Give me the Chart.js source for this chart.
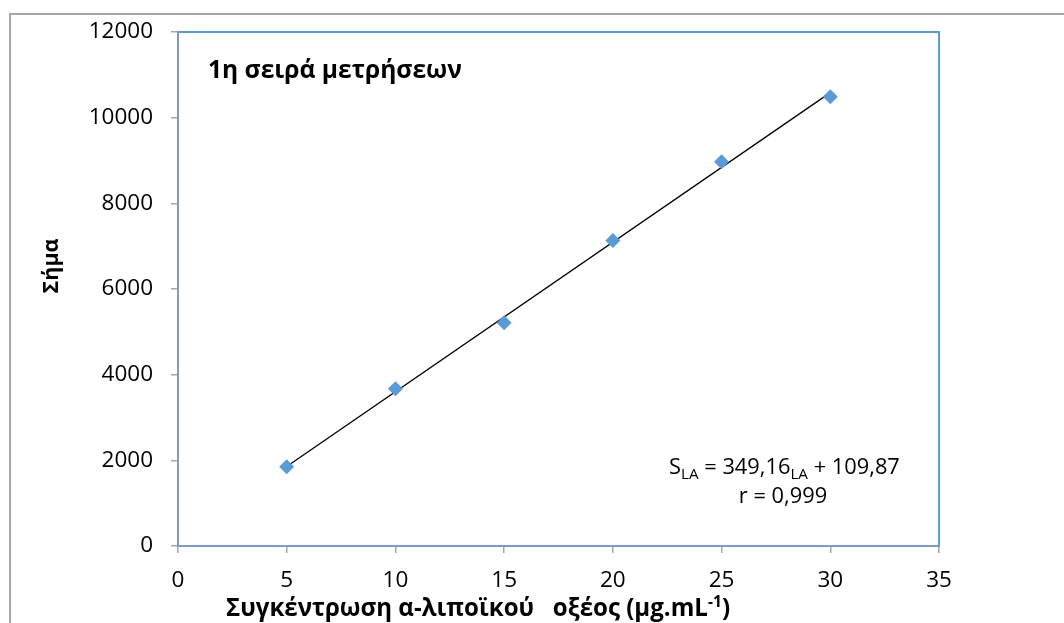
<!DOCTYPE html>
<html><head><meta charset="utf-8">
<script src="https://cdn.jsdelivr.net/npm/chart.js@4.4.1/dist/chart.umd.min.js"></script>
<style>html,body{margin:0;padding:0;background:#fff}#wrap{width:1064px;height:623px;position:relative}</style>
</head><body><div id="wrap"><canvas id="c" width="1064" height="623"></canvas></div>
<script>
const concentrations = [5, 10, 15, 20, 25, 30];
const signals = [1850, 3670, 5210, 7130, 8970, 10490];
const trendX = [5, 30];
const trendY = [1856, 10585];
const xTicks = [0, 5, 10, 15, 20, 25, 30, 35];
const yTicks = [0, 2000, 4000, 6000, 8000, 10000, 12000];
const chartTitle = '1η σειρά μετρήσεων';
const yTitle = 'Σήμα';
const xTitle = 'Συγκέντρωση α-λιποϊκού   οξέος (μg.mL';
const xTitleSup = '-1';
const FONT = '"Open Sans", "Noto Sans", sans-serif';

function fitSize(ctx, text, weight, target) {
  ctx.font = weight + ' 100px ' + FONT;
  return 100 * target / ctx.measureText(text).width;
}

const deco = {
  id: 'deco',
  beforeDraw(chart) {
    const ctx = chart.ctx;
    ctx.save();
    ctx.strokeStyle = '#A6A6A6';
    ctx.lineWidth = 2;
    ctx.beginPath();
    ctx.moveTo(10, 630); ctx.lineTo(10, 14); ctx.lineTo(1070, 14);
    ctx.stroke();
    const a = chart.chartArea;
    ctx.strokeStyle = '#5B9BD5';
    ctx.lineWidth = 2;
    ctx.strokeRect(a.left, a.top, a.right - a.left, a.bottom - a.top);
    ctx.restore();
  },
  afterDraw(chart) {
    const ctx = chart.ctx;
    ctx.save();
    ctx.fillStyle = '#000';
    ctx.textBaseline = 'alphabetic';
    // chart title
    let s = fitSize(ctx, chartTitle, 'bold', 254);
    ctx.font = 'bold ' + s + 'px ' + FONT;
    ctx.textAlign = 'left';
    ctx.fillText(chartTitle, 208, 78);
    // y title
    s = fitSize(ctx, yTitle, 'bold', 55);
    ctx.save();
    ctx.translate(58, 266);
    ctx.rotate(-Math.PI / 2);
    ctx.textAlign = 'center';
    ctx.font = 'bold ' + s + 'px ' + FONT;
    ctx.fillText(yTitle, 0, 0);
    ctx.restore();
    // x title with superscript
    const full = xTitle + xTitleSup + ')';
    s = fitSize(ctx, full, 'bold', 512);
    const ss = s * 0.65;
    ctx.font = 'bold ' + s + 'px ' + FONT;
    const w1 = ctx.measureText(xTitle).width;
    const w3 = ctx.measureText(')').width;
    ctx.font = 'bold ' + ss + 'px ' + FONT;
    const w2 = ctx.measureText(xTitleSup).width;
    const total = w1 + w2 + w3;
    let x = 478 - total / 2;
    const y = 616;
    ctx.textAlign = 'left';
    ctx.font = 'bold ' + s + 'px ' + FONT;
    ctx.fillText(xTitle, x, y); x += w1;
    ctx.font = 'bold ' + ss + 'px ' + FONT;
    ctx.fillText(xTitleSup, x, y - 9); x += w2;
    ctx.font = 'bold ' + s + 'px ' + FONT;
    ctx.fillText(')', x, y);
    // equation
    const eqParts = [['S', 1, 0], ['LA', 0.7, 5], [' = 349,16', 1, 0], ['LA', 0.7, 5], [' + 109,87', 1, 0]];
    const base = 19;
    let tw = 0;
    for (const p of eqParts) { ctx.font = (base * p[1]) + 'px ' + FONT; tw += ctx.measureText(p[0]).width; }
    const k = 231 / tw;
    let ex = 669;
    const ey = 474;
    for (const p of eqParts) {
      ctx.font = (base * k * p[1]) + 'px ' + FONT;
      ctx.fillText(p[0], ex, ey + p[2]);
      ex += ctx.measureText(p[0]).width;
    }
    ctx.font = (base * k) + 'px ' + FONT;
    ctx.textAlign = 'center';
    ctx.fillText('r = 0,999', 783, 503);
    ctx.restore();
  }
};

new Chart(document.getElementById('c'), {
  type: 'scatter',
  data: {
    datasets: [
      {
        type: 'line',
        data: trendX.map((v, i) => ({x: v, y: trendY[i]})),
        borderColor: '#000', borderWidth: 1.3, pointRadius: 0, fill: false, order: 2
      },
      {
        data: concentrations.map((v, i) => ({x: v, y: signals[i]})),
        pointStyle: 'rectRot', pointRadius: 7.5, pointHoverRadius: 7.5,
        backgroundColor: '#5B9BD5', borderColor: '#5B9BD5', borderWidth: 0, order: 1
      }
    ]
  },
  options: {
    responsive: false, animation: false, devicePixelRatio: 1,
    layout: {padding: {left: 0, top: 32, right: 125, bottom: 0}},
    plugins: {legend: {display: false}, tooltip: {enabled: false}},
    scales: {
      x: {
        type: 'linear', min: 0, max: 35,
        afterBuildTicks: s => { s.ticks = xTicks.map(v => ({value: v})); },
        afterFit: s => { s.height = 77; },
        grid: {drawOnChartArea: false, color: '#A6A6A6', tickLength: 7, lineWidth: 1.5},
        border: {color: '#7F9CC0', width: 2},
        ticks: {color: '#000', font: {family: FONT, size: 22.5}, padding: 14, maxRotation: 0,
                callback: v => String(v)}
      },
      y: {
        type: 'linear', min: 0, max: 12000,
        afterBuildTicks: s => { s.ticks = yTicks.map(v => ({value: v})); },
        afterFit: s => { s.width = 178; },
        grid: {drawOnChartArea: false, color: '#A6A6A6', tickLength: 7, lineWidth: 1.5},
        border: {color: '#7F9CC0', width: 2},
        ticks: {color: '#000', font: {family: FONT, size: 22.5}, padding: 18,
                callback: v => String(v)}
      }
    }
  },
  plugins: [deco]
});
</script></body></html>
